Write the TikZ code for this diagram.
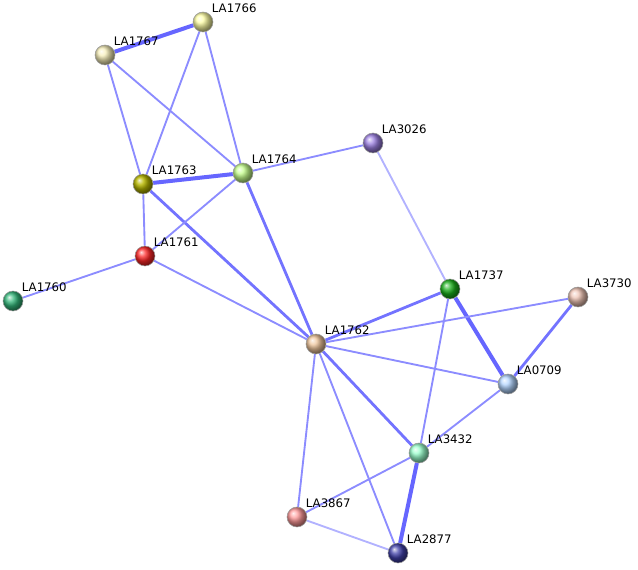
\documentclass[tikz,border=0pt]{standalone}
\usepackage{fontspec}
\setsansfont{DejaVu Sans}
\usepackage{tikz}
\usetikzlibrary{backgrounds}

\begin{document}
\begin{tikzpicture}[x=0.75pt,y=-0.75pt,
      prot/.style={circle,draw=black!40,thin,minimum size=15pt,inner sep=0pt,
      label={[lbl]45:#1}},
      lbl/.style={font=\sffamily\fontsize{8.8}{10}\selectfont,inner sep=0pt,
      label distance=1.5pt},
      weak/.style={draw=blue!45!white,line width=1.4pt},
      faint/.style={draw=blue!30!white,line width=1.4pt},
      mid/.style={draw=blue!55!white,line width=2.1pt},
      strong/.style={draw=blue!60!white,line width=3pt}]

     \useasboundingbox (0,0) rectangle (638,570);

     \node[prot=LA1766,ball color=yellow!35!white] (la1766) at (203,22) {};
     \node[prot=LA1767,ball color=brown!40!yellow!30!white] (la1767) at (105,55) {};
     \node[prot=LA1763,ball color=olive!75!yellow!80!white] (la1763) at (143,184) {};
     \node[prot=LA1764,ball color=green!50!yellow!45!white] (la1764) at (243,173) {};
     \node[prot=LA3026,ball color=violet!45!blue!50!white] (la3026) at (373,143) {};
     \node[prot=LA1761,ball color=red!85!white] (la1761) at (145,256) {};
     \node[prot=LA1760,ball color=teal!70!green!80!white] (la1760) at (13,301) {};
     \node[prot=LA1737,ball color=green!65!black!90!white] (la1737) at (450,289) {};
     \node[prot=LA3730,ball color=red!30!brown!35!white] (la3730) at (578,297) {};
     \node[prot=LA1762,ball color=orange!45!brown!45!white] (la1762) at (316,344) {};
     \node[prot=LA0709,ball color=cyan!45!blue!30!white] (la0709) at (508,384) {};
     \node[prot=LA3432,ball color=green!50!cyan!40!white] (la3432) at (419,453) {};
     \node[prot=LA3867,ball color=red!40!white] (la3867) at (297,517) {};
     \node[prot=LA2877,ball color=blue!55!black!75!white] (la2877) at (398,553) {};

     \begin{scope}[on background layer]
     \draw[strong] (la1767) -- (la1766)
                   (la1763) -- (la1764)
                   (la1737) -- (la0709)
                   (la3432) -- (la2877);
     \draw[mid] (la1763) -- (la1762)
                (la1764) -- (la1762)
                (la3730) -- (la0709)
                (la1762) -- (la3432)
                (la1762) -- (la1737);
     \draw[weak] (la1767) -- (la1763)
                 (la1767) -- (la1764)
                 (la1766) -- (la1763)
                 (la1766) -- (la1764)
                 (la1763) -- (la1761)
                 (la1764) -- (la1761)
                 (la1764) -- (la3026)
                 (la1761) -- (la1760)
                 (la1761) -- (la1762)
                 (la1737) -- (la3432)
                 (la3730) -- (la1762)
                 (la1762) -- (la0709)
                 (la1762) -- (la3867)
                 (la1762) -- (la2877)
                 (la0709) -- (la3432)
                 (la3432) -- (la3867);
     \draw[faint] (la3026) -- (la1737)
                  (la3867) -- (la2877);
     \end{scope}

\end{tikzpicture}
\end{document}
